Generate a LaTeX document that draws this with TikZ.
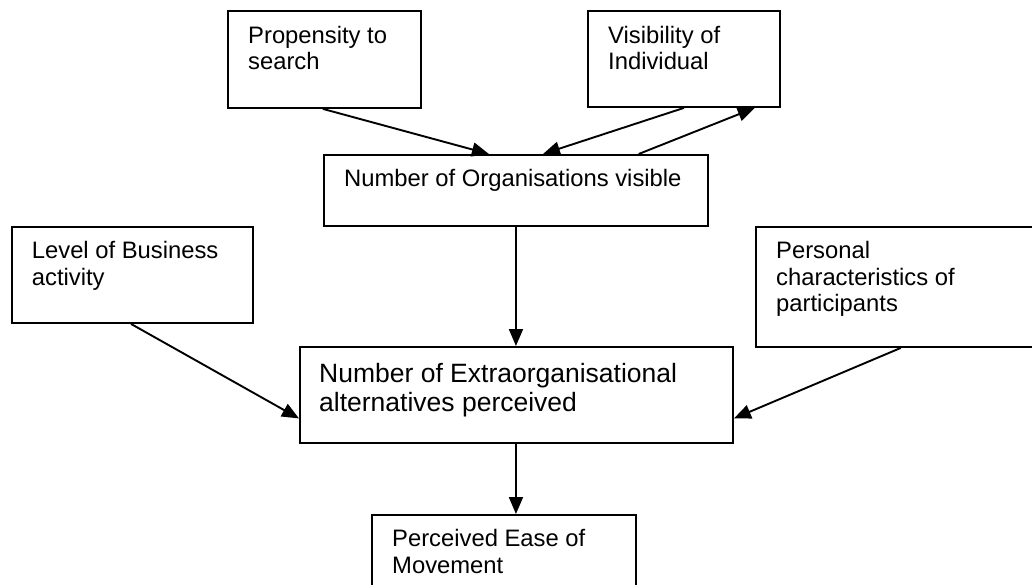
\documentclass[tikz,border=0pt]{standalone}
\usepackage{fontspec}
\setmainfont{Liberation Sans}
\usetikzlibrary{arrows.meta,calc}

\tikzset{
  box/.style={draw, line width=1.9pt, rectangle, inner sep=0pt, anchor=north west},
  % labels are placed by the baseline of their last line
  label/.style={anchor=base west, inner sep=0pt, align=left,
    font=\fontsize{23.8}{26.4}\selectfont},
  biglabel/.style={anchor=base west, inner sep=0pt, align=left,
    font=\fontsize{26.5}{28.7}\selectfont},
  link/.style={line width=1.9pt, -{Triangle[length=17pt,width=14pt]}}
}

\begin{document}
\begin{tikzpicture}[x=1pt,y=-1pt]
  \useasboundingbox (0,0) rectangle (1032,585);
  \clip (0,0) rectangle (1032,585);

  % boxes
  \node[box, minimum width=193pt, minimum height=97pt] (prop) at (227,10) {};
  \node[box, minimum width=192pt, minimum height=96pt] (vis) at (587,10) {};
  \node[box, minimum width=384pt, minimum height=71pt] (orgs) at (323,154) {};
  \node[box, minimum width=241pt, minimum height=96pt] (lev) at (11,226) {};
  \node[box, minimum width=300pt, minimum height=120pt] (pers) at (755,226) {};
  \node[box, minimum width=433pt, minimum height=96pt] (extra) at (299,346) {};
  \node[box, minimum width=264pt, minimum height=100pt] (ease) at (371,514) {};

  % labels
  \node[label] (propT) at (248,70) {Propensity to\\search};
  \node[label] (visT) at (608,70) {Visibility of\\Individual};
  \node[label] (orgsT) at (344,186.7) {Number of Organisations visible};
  \node[label] (levT) at (31.7,285) {Level of Business\\activity};
  \node[label] (persT) at (776,311.7) {Personal\\characteristics of\\participants};
  \node[biglabel] (extraT) at (319,411) {Number of Extraorganisational\\alternatives perceived};
  \node[label] (easeT) at (392,573.3) {Perceived Ease of\\Movement};

  % connectors
  \draw[link] ($(prop.south west)!0.492!(prop.south east)$) -- ($(orgs.north west)!0.43!(orgs.north east)$);
  \draw[link] ($(vis.south west)!0.5!(vis.south east)$) -- ($(orgs.north west)!0.57!(orgs.north east)$);
  \draw[link] ($(orgs.north west)!0.818!(orgs.north east)$) -- ($(vis.south west)!0.865!(vis.south east)$);
  \draw[link] (orgs.south) -- (orgs.south |- extra.north);
  \draw[link] ($(lev.south west)!0.494!(lev.south east)$) -- ($(extra.north west)!0.74!(extra.south west)$);
  \draw[link] ($(pers.south west)!0.483!(pers.south east)$) -- ($(extra.north east)!0.74!(extra.south east)$);
  \draw[link] (orgs.south |- extra.south) -- (orgs.south |- ease.north);
\end{tikzpicture}
\end{document}
